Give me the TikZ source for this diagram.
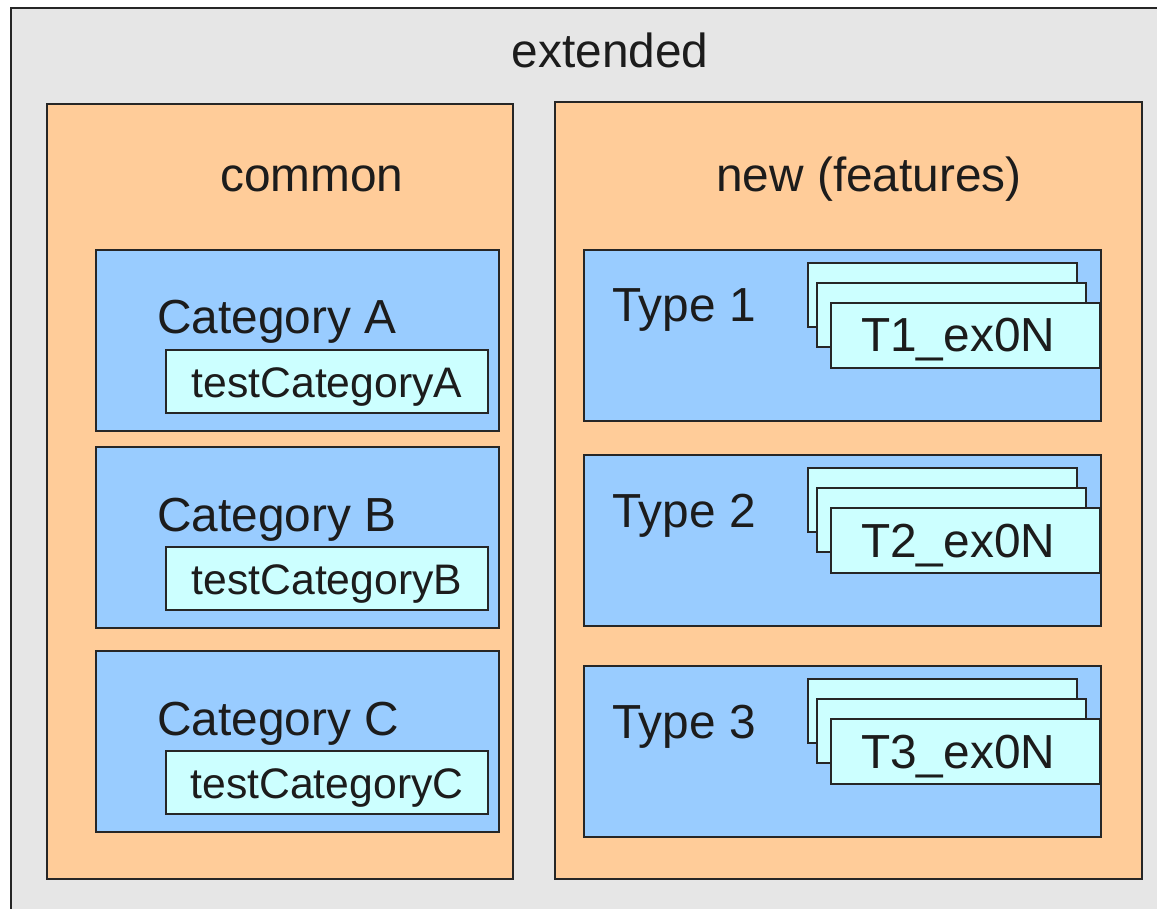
\documentclass[tikz,border=0pt]{standalone}
\usepackage{fontspec}
\setmainfont{Liberation Sans}
\definecolor{outergray}{HTML}{E6E6E6}
\definecolor{groupfill}{HTML}{FFCC99}
\definecolor{catfill}{HTML}{99CCFF}
\definecolor{itemfill}{HTML}{CCFFFF}
\definecolor{ink}{HTML}{1C1C1C}
\begin{document}
\begin{tikzpicture}[x=1pt,y=-1pt,
  panel/.style={draw=black!85, line width=1.2pt, anchor=north west, inner sep=0pt, outer sep=0pt},
  grp/.style={panel, fill=groupfill},
  cat/.style={panel, fill=catfill},
  item/.style={panel, fill=itemfill},
  big/.style={inner sep=0pt, text=ink, font=\fontsize{47.8}{50}\selectfont},
  small/.style={inner sep=0pt, text=ink, font=\fontsize{42.7}{45}\selectfont}]
  % canvas
  \clip (0,0) rectangle (1157,909);
  \fill[white] (0,0) rectangle (1157,909);
  \draw[draw=black!85, line width=1.2pt, fill=outergray] (11,8) rectangle (1200,960);
  \node[big, anchor=base] (extlabel) at (610,68) {extended};

  % left group: common
  \node[grp, minimum width=466pt, minimum height=775pt] (common) at (47,104) {};
  \node[big, anchor=base west] (commonlabel) at (220,192) {common};

  \foreach \n/\y in {A/250, B/447, C/651} {
    \node[cat, minimum width=403pt, minimum height=181pt] (cat\n) at (96,\y) {};
    \node[big, anchor=base west] (cat\n label) at (157,\y+84) {Category \n};
    \node[item, minimum width=322pt, minimum height=63pt] (test\n) at (166,\y+100) {};
    \node[small, anchor=base] (test\n label) at (327,\y+147) {testCategory\n};
  }

  % right group: new (features)
  \node[grp, minimum width=587pt, minimum height=777pt] (new) at (555,102) {};
  \node[big, anchor=base west] (newlabel) at (716,192) {new (features)};

  \foreach \k/\y in {1/250, 2/455, 3/666} {
    \node[cat, minimum width=517pt, minimum height=171pt] (type\k) at (584,\y) {};
    \node[big, anchor=base west] (type\k label) at (612,\y+72) {Type \k};
    \node[item, minimum width=269pt, minimum height=64pt] (ex\k c) at (808,\y+13) {};
    \node[item, minimum width=269pt, minimum height=64pt] (ex\k b) at (817,\y+33) {};
    \node[item, minimum width=269pt, minimum height=65pt] (ex\k a) at (831,\y+53) {};
    \node[big, anchor=base west] (ex\k label) at (861,\y+102) {T\k\_ex0N};
  }
\end{tikzpicture}
\end{document}
